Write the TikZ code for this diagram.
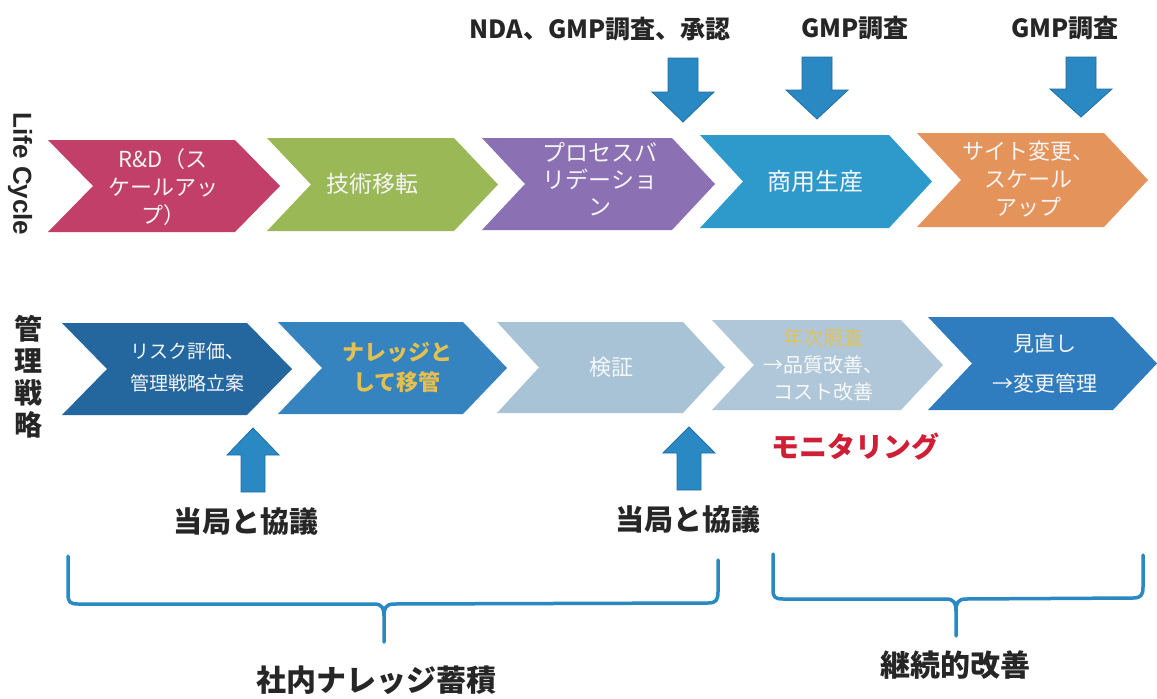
\documentclass[tikz,border=0pt]{standalone}
\usepackage{fontspec}
\setmainfont{Noto Sans CJK JP}
\newfontfamily\latb{Liberation Sans}
\definecolor{cR}{HTML}{C13F68}
\definecolor{cG}{HTML}{9BB856}
\definecolor{cP}{HTML}{8B70B3}
\definecolor{cB}{HTML}{2E9ACB}
\definecolor{cO}{HTML}{E4935B}
\definecolor{dA}{HTML}{23679E}
\definecolor{dB}{HTML}{3584BF}
\definecolor{dC}{HTML}{A9C3D6}
\definecolor{dD}{HTML}{AFC7D8}
\definecolor{dE}{HTML}{2F7DBE}
\definecolor{arr}{HTML}{2A88C2}
\definecolor{arrd}{HTML}{1F6EA3}
\definecolor{gold}{HTML}{E6C04E}
\definecolor{txt}{HTML}{262626}
\definecolor{mon}{HTML}{CF1F36}
\newcommand{\chev}[6]{% x0, ytop, ybot, w, d, color
  \fill[#6] (#1,#2) -- ({#1+#4-#5},#2) -- ({#1+#4},{(#2+#3)/2}) -- ({#1+#4-#5},#3) -- (#1,#3) -- ({#1+#5},{(#2+#3)/2}) -- cycle;}
\newcommand{\darr}[6]{% c, ytop, yhead, ytip, s, h
  \filldraw[fill=arr,draw=arrd,line width=0.8pt] ({#1-#5},#2) -- ({#1+#5},#2) -- ({#1+#5},#3) -- ({#1+#6},#3) -- (#1,#4) -- ({#1-#6},#3) -- ({#1-#5},#3) -- cycle;}
\tikzset{
  ctext/.style={align=center,text=white!96!black,inner sep=0pt},
  label/.style={text=txt,font=\bfseries\fontsize{29}{32}\selectfont,inner sep=0pt},
  brace/.style={draw=arr,line width=3.5pt,line join=round,line cap=round}
}
\begin{document}
\begin{tikzpicture}[x=1pt,y=-1pt]
\useasboundingbox[fill=white] (0,0) rectangle (1157,699);
% top row chevrons
\chev{48}{140}{232}{232}{45}{cR}
\chev{267}{138}{231}{231}{44}{cG}
\chev{482}{138}{230}{233}{43}{cP}
\chev{700}{135}{228}{232}{43}{cB}
\chev{917}{133}{227}{231}{44}{cO}
\node[ctext,font=\fontsize{22}{28}\selectfont] (t1) at (163,187) {R\&D（ス\\ケールアッ\\プ）};
\node[ctext,font=\fontsize{23}{28}\selectfont] (t2) at (372,184) {技術移転};
\node[ctext,font=\fontsize{23}{27}\selectfont] (t3) at (600,179) {プロセスバ\\リデーショ\\ン};
\node[ctext,font=\fontsize{24}{28}\selectfont] (t4) at (815,181) {商用生産};
\node[ctext,font=\fontsize{22}{28}\selectfont] (t5) at (1028,179) {サイト変更、\\スケール\\アップ};
% bottom row chevrons
\chev{62}{323}{415}{230}{45}{dA}
\chev{278}{322}{414}{229}{44}{dB}
\chev{497}{322}{413}{228}{42}{dC}
\chev{712}{320}{410}{231}{42}{dD}
\chev{928}{317}{410}{229}{44}{dE}
\node[ctext,font=\fontsize{19}{32}\selectfont] (b1) at (187,367) {リスク評価、\\管理戦略立案};
\node[ctext,text=gold,font=\bfseries\fontsize{22}{30}\selectfont] (b2) at (397,367) {ナレッジと\\して移管};
\node[ctext,text=white!88!dC,font=\fontsize{22}{28}\selectfont] (b3) at (611,367) {検証};
\node[ctext,font=\fontsize{20}{27}\selectfont,text=white!90!dD] (b4) at (823,365) {\textcolor{gold!90!dD}{年次照査}\\→品質改善、\\コスト改善};
\node[ctext,font=\fontsize{21}{40}\selectfont] (b5) at (1045,364) {見直し\\→変更管理};
% side labels
\node[rotate=-90,text=txt,font=\latb\bfseries\fontsize{26}{28}\selectfont,inner sep=0pt] (lc) at (20,174) {Life Cycle};
\node[text=txt,font=\bfseries\fontsize{28}{32}\selectfont,align=center,inner sep=0pt] (kr) at (28,377) {管\\理\\戦\\略};
% top labels and arrows
\node[label,font=\bfseries\fontsize{25}{28}\selectfont] (n1) at (600,29) {NDA、GMP調査、承認};
\node[label,font=\bfseries\fontsize{25}{28}\selectfont] (n2) at (855,28) {GMP調査};
\node[label,font=\bfseries\fontsize{25}{28}\selectfont] (n3) at (1065,28) {GMP調査};
\darr{683}{58}{92}{122}{15}{31}
\darr{817}{57}{90}{119}{15}{31}
\darr{1081}{57}{89}{117}{15}{31}
% up arrows
\darr{253}{492}{455}{428}{12}{26}
\darr{689}{490}{453}{427}{12}{26}
\node[label] (k1) at (246,522) {当局と協議};
\node[label] (k2) at (688,520) {当局と協議};
\node[text=mon,font=\bfseries\fontsize{28}{30}\selectfont,inner sep=0pt] (mo) at (855,447) {モニタリング};
% braces
\draw[brace] (68,556) -- (68,594) .. controls (68,602) and (70,604) .. (78,604) -- (374,604) .. controls (382,604) and (384,608) .. (384,616) -- (384,642);
\draw[brace] (384,616) .. controls (384,608) and (386,604) .. (394,604) -- (708,603) .. controls (716,603) and (718,600) .. (718,592) -- (718,560);
\draw[brace] (773,554) -- (773,590) .. controls (773,597) and (775,599) .. (783,599) -- (946,599) .. controls (954,599) and (956,603) .. (956,611) -- (956,636);
\draw[brace] (956,611) .. controls (956,603) and (958,599) .. (966,599) -- (1133,598) .. controls (1141,598) and (1143,595) .. (1143,587) -- (1143,555);
\node[label,font=\bfseries\fontsize{30}{32}\selectfont] (s1) at (376,680) {社内ナレッジ蓄積};
\node[label,font=\bfseries\fontsize{30}{32}\selectfont] (s2) at (955,665) {継続的改善};
\end{tikzpicture}
\end{document}
